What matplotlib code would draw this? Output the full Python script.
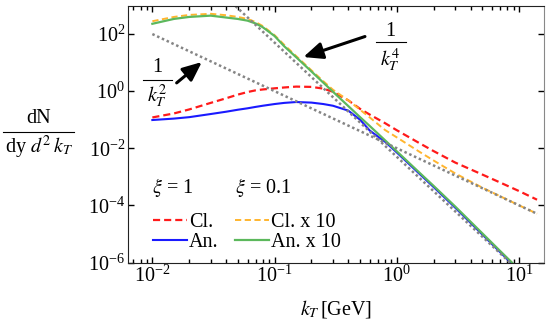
import numpy as np
import matplotlib
matplotlib.use('Agg')
import matplotlib.pyplot as plt
from matplotlib.lines import Line2D
from matplotlib.ticker import NullLocator, LogLocator

plt.rcParams['font.family'] = ['Liberation Serif', 'DejaVu Serif']
plt.rcParams['mathtext.fontset'] = 'stix'
plt.rcParams['font.size'] = 14.5

# k_T grid (GeV)
kt = [0.01, 0.015, 0.02, 0.03, 0.04, 0.05, 0.06, 0.07, 0.08, 0.1, 0.12, 0.15,
      0.2, 0.25, 0.3, 0.4, 0.5, 0.6, 0.8, 1, 1.5, 2, 3, 5, 7, 10, 14]

# log10(dN / dy d2kT)
cl_xi1 = [-0.92, -0.78, -0.64, -0.41, -0.25, -0.12, -0.03, 0.03, 0.06, 0.10, 0.13, 0.16,
          0.15, 0.09, -0.02, -0.32, -0.62, -0.82, -1.12, -1.37, -1.80, -2.10, -2.50, -2.92, -3.20, -3.50, -3.80]
an_xi1 = [-1.01, -0.96, -0.91, -0.80, -0.72, -0.65, -0.60, -0.55, -0.51, -0.45, -0.41, -0.38,
          -0.40, -0.45, -0.51, -0.68, -1.00, -1.38, -1.77, -2.15, -2.86, -3.36, -4.08, -5.02, -5.64, -6.29, -6.90]
cl_xi01 = [2.45, 2.60, 2.67, 2.71, 2.66, 2.60, 2.53, 2.42, 2.28, 1.96, 1.62, 1.23,
           0.73, 0.35, 0.05, -0.32, -0.65, -0.92, -1.36, -1.62, -2.10, -2.43, -2.88, -3.38, -3.68, -4.00, -4.29]
an_xi01 = [2.36, 2.53, 2.60, 2.645, 2.58, 2.53, 2.47, 2.37, 2.24, 1.93, 1.57, 1.19,
           0.69, 0.30, -0.02, -0.52, -0.91, -1.22, -1.72, -2.11, -2.82, -3.32, -4.04, -4.98, -5.60, -6.25, -6.85]

# reference power laws (gray dotted)
k_inv2 = [0.01, 14]
inv2 = [1e2, 5.1e-5]
k_inv4 = [0.04, 10]
inv4 = [1.95e3, 5e-7]

W, H = 556, 330
fig = plt.figure(figsize=(W / 100, H / 100), dpi=100)
ax = fig.add_axes([0.2302, 0.2045, 0.7482, 0.7788])
ax.set_xscale('log')
ax.set_yscale('log')

red = '#ff1a1a'
blue = '#1a1aff'
orange = '#ffb52e'
green = '#5cb85c'
gray = '#858585'

ax.plot(kt, 10 ** np.array(cl_xi1), color=red, lw=1.6, dashes=(3.2, 1.8))
ax.plot(kt, 10 ** np.array(an_xi1), color=blue, lw=1.5)
ax.plot(kt, 10 ** np.array(cl_xi01), color=orange, lw=1.4, dashes=(3.2, 1.8))
ax.plot(kt, 10 ** np.array(an_xi01), color=green, lw=1.6)
ax.plot(k_inv2, inv2, color=gray, lw=1.8, dashes=(1, 1.1))
ax.plot(k_inv4, inv4, color=gray, lw=1.8, dashes=(1, 1.1))

ax.set_xlim(0.00632, 15.96)
ax.set_ylim(1e-6, 1e3)
ax.set_yticks([1e-6, 1e-4, 1e-2, 1, 1e2])
ax.yaxis.set_minor_locator(NullLocator())
ax.xaxis.set_major_locator(LogLocator(base=10))
ax.xaxis.set_minor_locator(LogLocator(base=10, subs=np.arange(2, 10)))
ax.tick_params(which='both', direction='in', top=True, right=True, width=1)
ax.tick_params(which='major', length=4, pad=2)
ax.tick_params(which='minor', length=3)
for s in ['left', 'bottom', 'top']:
    ax.spines[s].set_color('#222222')
ax.spines['right'].set_color('#888888')

ax.set_xlabel(r'$k_T\,$[GeV]', labelpad=8)


def frac(num, den, xc, y_num, y_bar, y_den, x0, x1):
    # stacked fraction placed in pixel coords of the figure
    fig.text(xc / W, 1 - y_num / H, num, ha='center', va='center')
    fig.text(xc / W, 1 - y_den / H, den, ha='center', va='center')
    fig.add_artist(Line2D([x0 / W, x1 / W], [1 - y_bar / H] * 2, color='k', lw=0.8,
                          transform=fig.transFigure))


frac('dN', r'dy $d^2\,k_T$', 38.5, 118, 131.5, 147, 3, 74)
frac('1', r'$k_T^2$', 157, 68, 79.5, 96, 143, 172)
frac('1', r'$k_T^4$', 390, 31, 41.5, 60, 376, 406)

ax.annotate('', xy=(0.0254, 10.5), xytext=(0.0158, 1.95),
            arrowprops=dict(arrowstyle='-|>,head_length=0.8,head_width=0.35', color='k',
                            lw=2.2, shrinkA=0, shrinkB=0))
ax.annotate('', xy=(0.172, 15.7), xytext=(0.548, 82),
            arrowprops=dict(arrowstyle='-|>,head_length=0.8,head_width=0.35', color='k',
                            lw=2.2, shrinkA=0, shrinkB=0))

# legend
ax.text(0.058, 0.29, r'$\xi$ = 1', transform=ax.transAxes, va='center')
ax.text(0.257, 0.29, r'$\xi$ = 0.1', transform=ax.transAxes, va='center')
handles = [Line2D([], [], color=red, lw=1.6, dashes=(3.2, 1.8)),
           Line2D([], [], color=blue, lw=1.5),
           Line2D([], [], color=orange, lw=1.4, dashes=(3.2, 1.8)),
           Line2D([], [], color=green, lw=1.6)]
ax.legend(handles, ['Cl.', 'An.', 'Cl. x 10', 'An. x 10'], ncol=2, frameon=False,
          handlelength=1.7, handletextpad=0.1, columnspacing=0.8, labelspacing=0.05,
          loc='lower left', bbox_to_anchor=(0.06, 0.04), borderpad=0, borderaxespad=0)

fig.savefig('out.png', dpi=100)
